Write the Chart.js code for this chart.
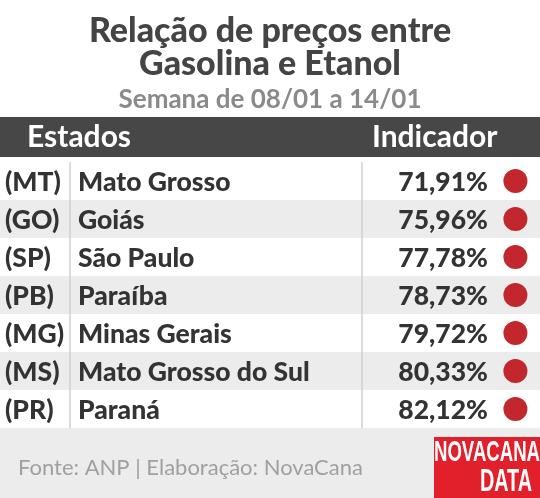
<!DOCTYPE html>
<html><head><meta charset="utf-8">
<script src="https://cdn.jsdelivr.net/npm/chart.js@4/dist/chart.umd.min.js"></script>
<style>html,body{margin:0;padding:0;background:#fff}#w{width:540px;height:498px}</style>
</head><body><div id="w"><canvas id="c"></canvas></div>
<script>
const codes = ['(MT)','(GO)','(SP)','(PB)','(MG)','(MS)','(PR)'];
const states = ['Mato Grosso','Goiás','São Paulo','Paraíba','Minas Gerais','Mato Grosso do Sul','Paraná'];
const values = [71.91,75.96,77.78,78.73,79.72,80.33,82.12];
const title = ['Relação de preços entre','Gasolina e Etanol'];
const subtitle = 'Semana de 08/01 a 14/01';
const headers = ['Estados','Indicador'];
const source = 'Fonte: ANP | Elaboração: NovaCana';

const F = 'Lato, "Open Sans", sans-serif';
const deco = {
  id:'deco',
  beforeDraw(ch){
    const c=ch.ctx, y=ch.scales.y, W=ch.width;
    c.save();
    c.fillStyle='#fff';c.fillRect(0,0,W,ch.height);
    const h=(y.bottom-y.top)/states.length;
    states.forEach((s,i)=>{
      const cy=y.getPixelForValue(i);
      c.fillStyle = i%2? '#ececec':'#fff';
      c.fillRect(0,cy-h/2,W,h);
    });
    c.fillStyle='#ececec';c.fillRect(0,y.bottom,W,ch.height-y.bottom);
    c.strokeStyle='#d0d0d0';c.lineWidth=1.5;
    [70,362].forEach(x=>{c.beginPath();c.moveTo(x,y.top);c.lineTo(x,y.bottom);c.stroke();});
    c.fillStyle='#474747';c.fillRect(0,117,W,y.top-117-5);
    c.fillStyle='#fff';c.font='bold 30px '+F;c.textBaseline='middle';
    c.textAlign='left';c.fillText(headers[0],27,137);c.fillText(headers[1],372,137);
    c.fillStyle='#444';c.textAlign='center';c.font='900 34px '+F;
    c.fillText(title[0],W/2,31);c.fillText(title[1],W/2,64);
    c.fillStyle='#8a8a8a';c.font='bold 26px '+F;c.fillText(subtitle,W/2,100);
    c.fillStyle='#333';
    states.forEach((s,i)=>{
      const cy=y.getPixelForValue(i)+1;
      c.font='900 26.5px '+F;c.textAlign='left';
      c.fillText(codes[i],5,cy);c.fillText(s,78,cy);
      c.textAlign='right';c.fillText(values[i].toFixed(2).replace('.',',')+'%',488,cy);
    });
    c.fillStyle='#a0a0a0';c.font='22px '+F;c.textAlign='left';c.fillText(source,18,468);
    c.fillStyle='#e2202c';c.fillRect(434,437,W-434,ch.height-437);
    c.fillStyle='#fff';c.textAlign='center';
    c.save();c.translate(487,453);c.scale(0.62,1);
    c.font='bold 30px "Liberation Sans", sans-serif';c.fillText('NOVACANA',0,0);c.restore();
    c.save();c.translate(506,482);c.scale(0.62,1);
    c.font='bold 32px "Liberation Sans", sans-serif';c.fillText('DATA',0,0);c.restore();
    c.restore();
  }
};
function go(){
new Chart(document.getElementById('c'),{
  type:'scatter',
  data:{datasets:[{data:states.map((s,i)=>({x:1,y:i})),pointRadius:12,pointHoverRadius:12,
    backgroundColor:'#c1272d',borderWidth:0}]},
  options:{responsive:true,maintainAspectRatio:false,animation:false,
    layout:{padding:{top:162,bottom:70,left:0,right:0}},
    plugins:{legend:{display:false},tooltip:{enabled:false}},
    scales:{
      x:{type:'linear',display:false,min:0,max:1.025},
      y:{type:'linear',display:false,min:-0.5,max:states.length-0.5,reverse:true}
    }},
  plugins:[deco]
});}
Promise.all(['bold 24px Lato','900 24px Lato','22px Lato'].map(f=>document.fonts.load(f))).then(go,go);
</script></body></html>
